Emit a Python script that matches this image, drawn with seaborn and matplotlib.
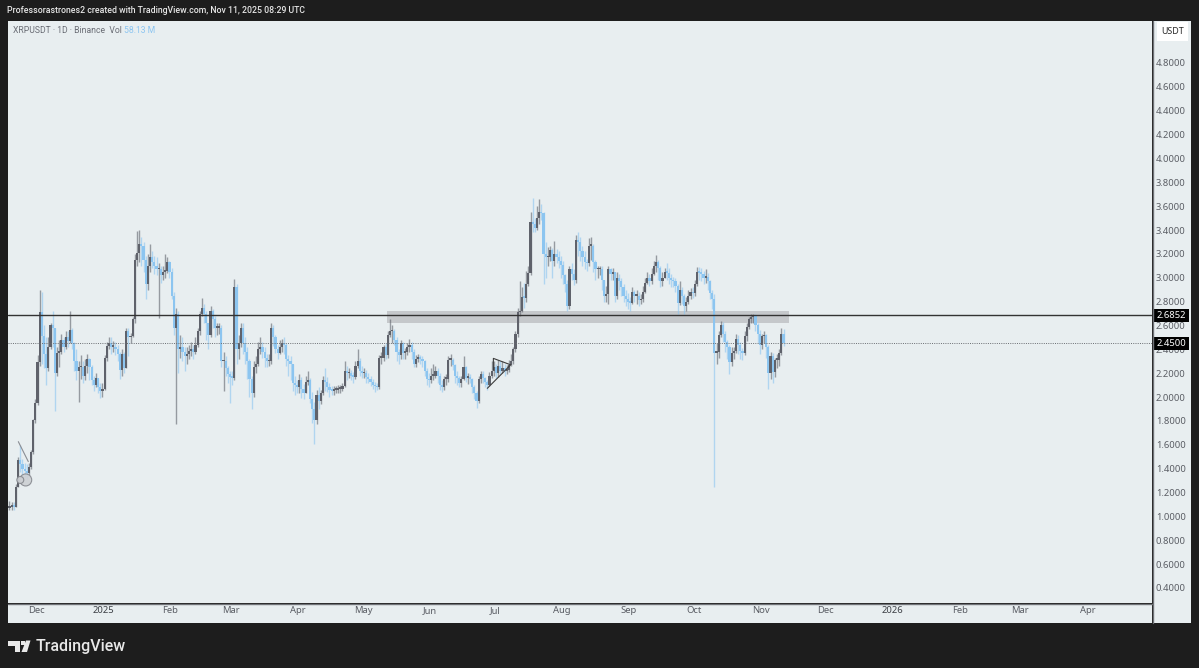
import matplotlib
matplotlib.use("Agg")
import matplotlib.pyplot as plt
from matplotlib.patches import Polygon, Rectangle
import numpy as np
import pandas as pd
import seaborn as sns

first_open = 1.07
closes = [
 1.08,1.09,1.08,1.25,1.47,1.44,1.40,1.38,1.36,1.41,
 1.54,1.81,1.95,2.29,2.71,2.51,2.36,2.24,2.42,2.60,
 2.58,2.20,2.37,2.38,2.48,2.42,2.50,2.47,2.56,2.45,
 2.30,2.22,2.25,2.25,2.18,2.26,2.32,2.25,2.14,2.10,
 2.16,2.08,2.05,2.07,2.33,2.43,2.45,2.42,2.42,2.40,
 2.36,2.23,2.36,2.24,2.55,2.50,2.51,2.65,3.15,3.21,
 3.28,3.27,3.15,2.95,3.10,3.17,3.13,3.10,3.07,3.07,
 3.02,3.05,3.06,3.13,3.05,2.85,2.58,2.70,2.40,2.42,
 2.38,2.34,2.36,2.39,2.40,2.38,2.44,2.55,2.70,2.75,
 2.70,2.62,2.52,2.72,2.65,2.58,2.58,2.58,2.30,2.30,
 2.24,2.19,2.17,2.16,2.92,2.40,2.45,2.58,2.45,2.38,
 2.30,2.15,2.03,2.25,2.28,2.40,2.42,2.38,2.33,2.30,
 2.30,2.58,2.50,2.40,2.37,2.42,2.45,2.44,2.32,2.30,
 2.28,2.12,2.10,2.08,2.14,2.07,2.03,2.13,2.14,1.98,
 1.90,1.81,2.02,1.97,2.03,2.14,2.13,2.08,2.06,2.05,
 2.06,2.06,2.07,2.07,2.09,2.22,2.20,2.20,2.18,2.17,
 2.26,2.30,2.22,2.20,2.20,2.17,2.15,2.13,2.10,2.09,
 2.08,2.33,2.33,2.42,2.35,2.52,2.55,2.55,2.48,2.38,
 2.35,2.45,2.37,2.38,2.42,2.44,2.38,2.28,2.32,2.33,
 2.32,2.30,2.22,2.15,2.14,2.18,2.18,2.22,2.18,2.10,
 2.08,2.15,2.15,2.31,2.31,2.27,2.18,2.16,2.12,2.15,
 2.25,2.16,2.16,2.15,2.08,2.03,1.97,2.15,2.19,2.16,
 2.13,2.10,2.18,2.22,2.25,2.20,2.26,2.22,2.24,2.22,
 2.23,2.27,2.30,2.40,2.53,2.71,2.72,2.84,2.83,2.95,
 3.04,3.47,3.45,3.42,3.50,3.55,3.54,3.20,3.17,3.17,
 3.23,3.14,3.20,3.17,3.14,3.11,3.02,2.95,2.76,3.07,
 3.03,2.98,3.32,3.30,3.22,3.17,3.13,3.12,3.27,3.27,
 3.13,3.07,3.07,3.07,2.98,2.85,2.86,3.07,3.03,3.05,
 2.85,3.00,2.97,2.92,2.85,2.82,2.80,2.79,2.88,2.85,
 2.85,2.81,2.82,2.88,2.96,3.00,2.97,3.03,3.10,3.13,
 3.08,2.97,3.00,3.05,3.04,3.00,2.98,2.97,2.93,2.79,
 2.90,2.85,2.76,2.80,2.85,2.88,2.87,2.95,3.05,3.04,
 3.03,3.00,3.01,2.97,2.87,2.82,2.37,2.38,2.52,2.60,
 2.53,2.46,2.42,2.29,2.37,2.39,2.49,2.44,2.39,2.37,
 2.51,2.59,2.65,2.67,2.68,2.60,2.53,2.44,2.51,2.52,
 2.42,2.20,2.34,2.21,2.31,2.31,2.37,2.53,2.45]
highs = [
 1.13,1.12,1.12,1.27,1.50,1.60,1.48,1.45,1.44,1.45,
 1.56,1.82,1.98,2.35,2.90,2.88,2.60,2.50,2.50,2.62,
 2.72,2.58,2.42,2.48,2.53,2.50,2.55,2.55,2.72,2.58,
 2.46,2.40,2.30,2.35,2.30,2.32,2.36,2.33,2.27,2.18,
 2.20,2.16,2.12,2.12,2.35,2.46,2.50,2.50,2.47,2.46,
 2.44,2.38,2.40,2.38,2.58,2.58,2.54,2.67,3.20,3.39,
 3.40,3.34,3.30,3.18,3.20,3.28,3.22,3.18,3.17,3.12,
 3.10,3.10,3.20,3.17,3.14,3.08,2.88,2.75,2.72,2.52,
 2.50,2.42,2.42,2.44,2.46,2.44,2.50,2.58,2.72,2.83,
 2.78,2.72,2.60,2.76,2.74,2.68,2.62,2.62,2.60,2.38,
 2.34,2.26,2.22,2.22,2.99,2.95,2.52,2.62,2.62,2.50,
 2.42,2.32,2.18,2.30,2.34,2.46,2.50,2.46,2.42,2.36,
 2.36,2.62,2.60,2.52,2.44,2.48,2.49,2.50,2.45,2.35,
 2.34,2.28,2.18,2.14,2.19,2.17,2.11,2.18,2.22,2.16,
 2.04,1.96,2.06,2.08,2.06,2.18,2.24,2.17,2.12,2.09,
 2.09,2.09,2.10,2.10,2.12,2.30,2.26,2.24,2.23,2.21,
 2.30,2.40,2.33,2.26,2.24,2.23,2.20,2.18,2.15,2.13,
 2.12,2.35,2.38,2.44,2.45,2.55,2.65,2.60,2.57,2.50,
 2.40,2.48,2.46,2.41,2.45,2.49,2.46,2.40,2.35,2.36,
 2.35,2.34,2.31,2.24,2.20,2.24,2.28,2.26,2.24,2.20,
 2.14,2.18,2.19,2.34,2.36,2.33,2.28,2.22,2.18,2.18,
 2.34,2.26,2.20,2.19,2.16,2.10,2.05,2.18,2.22,2.22,
 2.17,2.14,2.21,2.30,2.30,2.28,2.31,2.30,2.30,2.28,
 2.27,2.31,2.36,2.42,2.55,2.75,2.97,2.92,2.96,3.06,
 3.10,3.55,3.67,3.50,3.60,3.66,3.62,3.55,3.30,3.26,
 3.27,3.25,3.31,3.24,3.22,3.18,3.14,3.03,2.98,3.10,
 3.12,3.07,3.36,3.38,3.34,3.27,3.22,3.16,3.33,3.34,
 3.28,3.15,3.10,3.10,3.10,2.98,2.93,3.10,3.08,3.08,
 3.05,3.05,3.03,3.00,2.95,2.90,2.87,2.84,2.92,2.90,
 2.90,2.88,2.86,2.93,3.00,3.05,3.03,3.08,3.14,3.19,
 3.15,3.10,3.05,3.08,3.12,3.08,3.03,3.01,3.00,2.95,
 2.97,2.92,2.86,2.84,2.90,2.91,2.92,2.98,3.09,3.09,
 3.08,3.06,3.07,3.04,2.98,2.90,2.86,2.45,2.55,2.64,
 2.63,2.55,2.48,2.44,2.42,2.42,2.53,2.52,2.46,2.41,
 2.55,2.62,2.67,2.70,2.70,2.70,2.62,2.56,2.53,2.55,
 2.53,2.44,2.38,2.37,2.33,2.36,2.40,2.58,2.57]
lows = [
 1.05,1.05,1.05,1.08,1.25,1.37,1.35,1.33,1.31,1.35,
 1.40,1.52,1.78,1.93,2.26,2.28,2.24,2.10,2.22,2.40,
 2.42,1.88,2.18,2.25,2.36,2.38,2.40,2.42,2.45,2.40,
 2.22,2.14,1.96,2.15,2.12,2.14,2.20,2.14,2.10,2.05,
 2.08,2.03,1.99,2.00,2.06,2.30,2.40,2.36,2.38,2.35,
 2.30,2.15,2.18,2.20,2.24,2.34,2.45,2.50,2.62,3.10,
 3.13,3.10,3.05,2.82,2.90,3.05,3.08,3.03,3.02,2.66,
 2.96,2.98,3.00,3.04,3.00,2.82,2.52,1.77,2.20,2.33,
 2.30,2.22,2.28,2.32,2.34,2.32,2.36,2.42,2.52,2.68,
 2.62,2.48,2.40,2.50,2.58,2.50,2.52,2.53,2.25,2.05,
 2.18,2.12,1.95,2.10,2.14,2.28,2.32,2.42,2.36,2.28,
 2.15,2.00,1.90,2.00,2.20,2.26,2.36,2.33,2.25,2.25,
 2.26,2.28,2.43,2.37,2.32,2.36,2.38,2.36,2.26,2.18,
 2.14,2.05,2.02,2.03,2.03,1.99,1.98,2.03,2.10,1.95,
 1.78,1.61,1.77,1.90,1.94,2.02,2.05,2.04,2.00,2.02,
 2.02,2.03,2.03,2.03,2.05,2.08,2.14,2.16,2.14,2.12,
 2.15,2.24,2.18,2.16,2.16,2.12,2.12,2.09,2.07,2.04,
 2.06,2.07,2.28,2.30,2.32,2.33,2.50,2.45,2.44,2.30,
 2.28,2.32,2.32,2.32,2.35,2.38,2.32,2.25,2.25,2.29,
 2.28,2.25,2.18,2.10,2.08,2.12,2.14,2.16,2.12,2.06,
 2.04,2.06,2.10,2.13,2.26,2.23,2.12,2.10,2.08,2.08,
 2.14,2.13,2.11,2.12,2.03,1.98,1.91,1.95,2.12,2.12,
 2.08,2.06,2.09,2.16,2.18,2.16,2.17,2.19,2.20,2.18,
 2.19,2.21,2.26,2.28,2.38,2.50,2.68,2.71,2.75,2.80,
 2.93,3.02,3.38,3.38,3.40,3.45,3.48,2.95,3.00,3.10,
 3.14,3.00,3.10,3.12,3.08,3.00,2.95,2.88,2.72,2.74,
 2.98,2.94,2.96,3.18,3.14,3.10,3.07,3.06,3.10,3.15,
 3.05,2.98,3.00,3.02,2.90,2.80,2.80,2.78,2.98,2.98,
 2.80,2.82,2.90,2.85,2.80,2.76,2.74,2.72,2.78,2.80,
 2.78,2.76,2.78,2.80,2.87,2.95,2.93,2.95,3.02,3.05,
 2.98,2.92,2.93,3.00,2.98,2.95,2.92,2.92,2.88,2.70,
 2.77,2.78,2.70,2.72,2.78,2.82,2.83,2.85,2.93,2.98,
 2.97,2.95,2.96,2.90,2.82,2.74,1.25,2.28,2.33,2.50,
 2.46,2.38,2.32,2.19,2.26,2.32,2.37,2.36,2.32,2.31,
 2.35,2.47,2.57,2.62,2.62,2.55,2.45,2.36,2.40,2.45,
 2.33,2.07,2.15,2.12,2.17,2.24,2.26,2.35,2.43]

price_ticks = [4.8,4.6,4.4,4.2,4.0,3.8,3.6,3.4,3.2,3.0,2.8,2.6,2.4,2.2,2.0,1.8,1.6,1.4,1.2,1.0,0.8,0.6,0.4]
month_dates = ["2024-12-01","2025-01-01","2025-02-01","2025-03-01","2025-04-01","2025-05-01","2025-06-01",
               "2025-07-01","2025-08-01","2025-09-01","2025-10-01","2025-11-01","2025-12-01","2026-01-01",
               "2026-02-01","2026-03-01","2026-04-01"]
month_labels = ["Dec","2025","Feb","Mar","Apr","May","Jun","Jul","Aug","Sep","Oct","Nov","Dec","2026","Feb","Mar","Apr"]
level_solid = 2.6852
level_last = 2.45
zone_dates = ["2025-05-12","2025-11-14"]
zone_prices = [2.624,2.724]
wedge_days = [208.5,219.3,211.3,211.3]
wedge_prices = [2.073,2.27,2.324,2.227]
flag_days = [-8.4,-3.8]
flag_prices = [1.626,1.459]

W, H = 1199, 668
BG = "#1d1d1d"; PANEL = "#e8eef0"; UP = "#5f626b"; DOWN = "#8cc5f0"; TXT = "#5a5d64"

sns.set_theme(style="white")
plt.rcParams["font.family"] = ["Noto Sans", "DejaVu Sans"]
ROBOTO = ["Roboto", "DejaVu Sans"]

def rect_px(x0, y0, x1, y1):
    return [x0 / W, 1 - y1 / H, (x1 - x0) / W, (y1 - y0) / H]

fig = plt.figure(figsize=(W / 100, H / 100), dpi=100, facecolor=BG)
ax = fig.add_axes(rect_px(8, 21, 1152, 603), facecolor=PANEL)
ax_x = fig.add_axes(rect_px(8, 604, 1152, 623), facecolor=PANEL)
ax_y = fig.add_axes(rect_px(1153, 21, 1191, 623), facecolor=PANEL)

origin = pd.Timestamp("2024-12-01")
n = len(closes)
days = np.arange(n) - 13 + 0.5
c = np.array(closes); hi = np.array(highs); lo = np.array(lows)
o = np.concatenate([[first_open], c[:-1]])
is_up = c >= o
colors = np.where(is_up, UP, DOWN)

xlim = (-13.18, 515.9)
ax.set_xlim(*xlim)
ymin, ymax = 0.2736, 5.152
ax.set_ylim(ymin, ymax)

z0, z1 = [(pd.Timestamp(d) - origin).days for d in zone_dates]
ax.add_patch(Rectangle((z0, zone_prices[0]), z1 - z0, zone_prices[1] - zone_prices[0],
                       color="#c5c8cb", lw=0, zorder=1))

ax.vlines(days, lo, hi, colors=colors, lw=1.0, alpha=0.6, zorder=2)
ax.bar(days, np.maximum(np.abs(c - o), 0.014), bottom=np.minimum(c, o), width=1.0,
       color=colors, linewidth=0, zorder=3)

ax.axhline(level_solid, color="#333333", lw=1.0, zorder=4)
ax.axhline(level_last, color="#6a6d72", lw=0.7, ls=(0, (1, 1.3)), zorder=4)

sns.lineplot(x=wedge_days, y=wedge_prices, ax=ax, sort=False, estimator=None, color="#3c3c3c", lw=0.8, zorder=5)
sns.lineplot(x=flag_days, y=flag_prices, ax=ax, sort=False, estimator=None, color="#8a8d93", lw=0.8, zorder=5)
sns.scatterplot(x=[-5.0, -7.5], y=[1.305, 1.305], s=[75, 25], ax=ax, color="#cdd0d4", edgecolor="#85888e",
                linewidth=0.8, alpha=0.9, zorder=6, legend=False)

ax.set_xlabel(""); ax.set_ylabel("")
ax.set_xticks([]); ax.set_yticks([])
for s in ax.spines.values():
    s.set_visible(False)

# time axis
tick_days = [(pd.Timestamp(d) - origin).days for d in month_dates]
ax_x.set_xlim(*xlim)
ax_x.set_xticks(tick_days)
ax_x.set_xticklabels(month_labels, fontsize=6.8, color=TXT)
ax_x.set_yticks([])
ax_x.tick_params(axis="x", length=0, pad=-12, labelbottom=True)
for lab in ax_x.get_xticklabels():
    if lab.get_text().startswith("20"):
        lab.set_fontweight("medium")
        lab.set_color("#3c3f45")
for s in ax_x.spines.values():
    s.set_visible(False)
fig.add_artist(plt.Line2D([8 / W, 1152 / W], [1 - 603.5 / H] * 2, color="#6f7277", lw=1))
fig.add_artist(plt.Line2D([1152.5 / W] * 2, [1 - 21 / H, 1 - 623 / H], color="#6f7277", lw=1))

# price axis
ax_y.set_ylim(ymin - (623 - 603) / 119.3, ymax)
ax_y.set_xlim(0, 38)
ax_y.set_xticks([])
ax_y.set_yticks(price_ticks)
ax_y.set_yticklabels([f"{p:.4f}" for p in price_ticks], fontsize=6.8, color=TXT)
ax_y.tick_params(axis="y", length=0, pad=-23.5, labelleft=True)
for s in ax_y.spines.values():
    s.set_visible(False)
for val in (level_solid, level_last):
    ax_y.add_patch(Rectangle((0, val - 0.055), 36, 0.11, fc="black", ec="none", zorder=9))
    ax_y.text(18.5, val, f"{val:.4f}", ha="center", va="center", fontsize=6.8, color="white",
              fontweight="bold", zorder=10)
fig.add_artist(Rectangle((1157 / W, 1 - 41 / H), 31 / W, 19 / H, transform=fig.transFigure, fc="white", ec="none"))
fig.text(1172.5 / W, 1 - 32 / H, "USDT", ha="center", va="center", fontsize=6.4, color="#2a2a2a", fontweight="medium")

# header and legend
fig.text(7 / W, 1 - 10.5 / H, "Professorastrones2 created with TradingView.com, Nov 11, 2025 08:29 UTC",
         ha="left", va="center", fontsize=6.3, color="#e6e6e6", fontweight="medium", family=ROBOTO)
fig.text(13 / W, 1 - 30.5 / H, "XRPUSDT · 1D · Binance  Vol", ha="left", va="center", fontsize=6.2,
         color="#6a6d75", family=ROBOTO)
fig.text(124 / W, 1 - 30.5 / H, "58.13 M", ha="left", va="center", fontsize=6.2, color="#8cc5f0", family=ROBOTO)

# footer logo
logo = "#e8e8e8"
def px(points):
    return [(x / W, 1 - y / H) for x, y in points]
fig.add_artist(Polygon(px([(8, 640.5), (20, 640.5), (20, 652), (14.5, 652), (14.5, 645.5), (8, 645.5)]),
                       transform=fig.transFigure, fc=logo, ec="none"))
fig.add_artist(Polygon(px([(21.5, 652), (26, 640.5), (30.5, 640.5), (27, 652)]),
                       transform=fig.transFigure, fc=logo, ec="none"))
fig.add_artist(Polygon(px([(21, 641), (24.5, 641), (24.5, 645), (21, 645)]),
                       transform=fig.transFigure, fc=logo, ec="none"))
fig.text(35.5 / W, 1 - 646 / H, "TradingView", ha="left", va="center", fontsize=11.5, color=logo,
         fontweight="medium", family=ROBOTO)

fig.savefig("out.png", dpi=100, facecolor=BG)
